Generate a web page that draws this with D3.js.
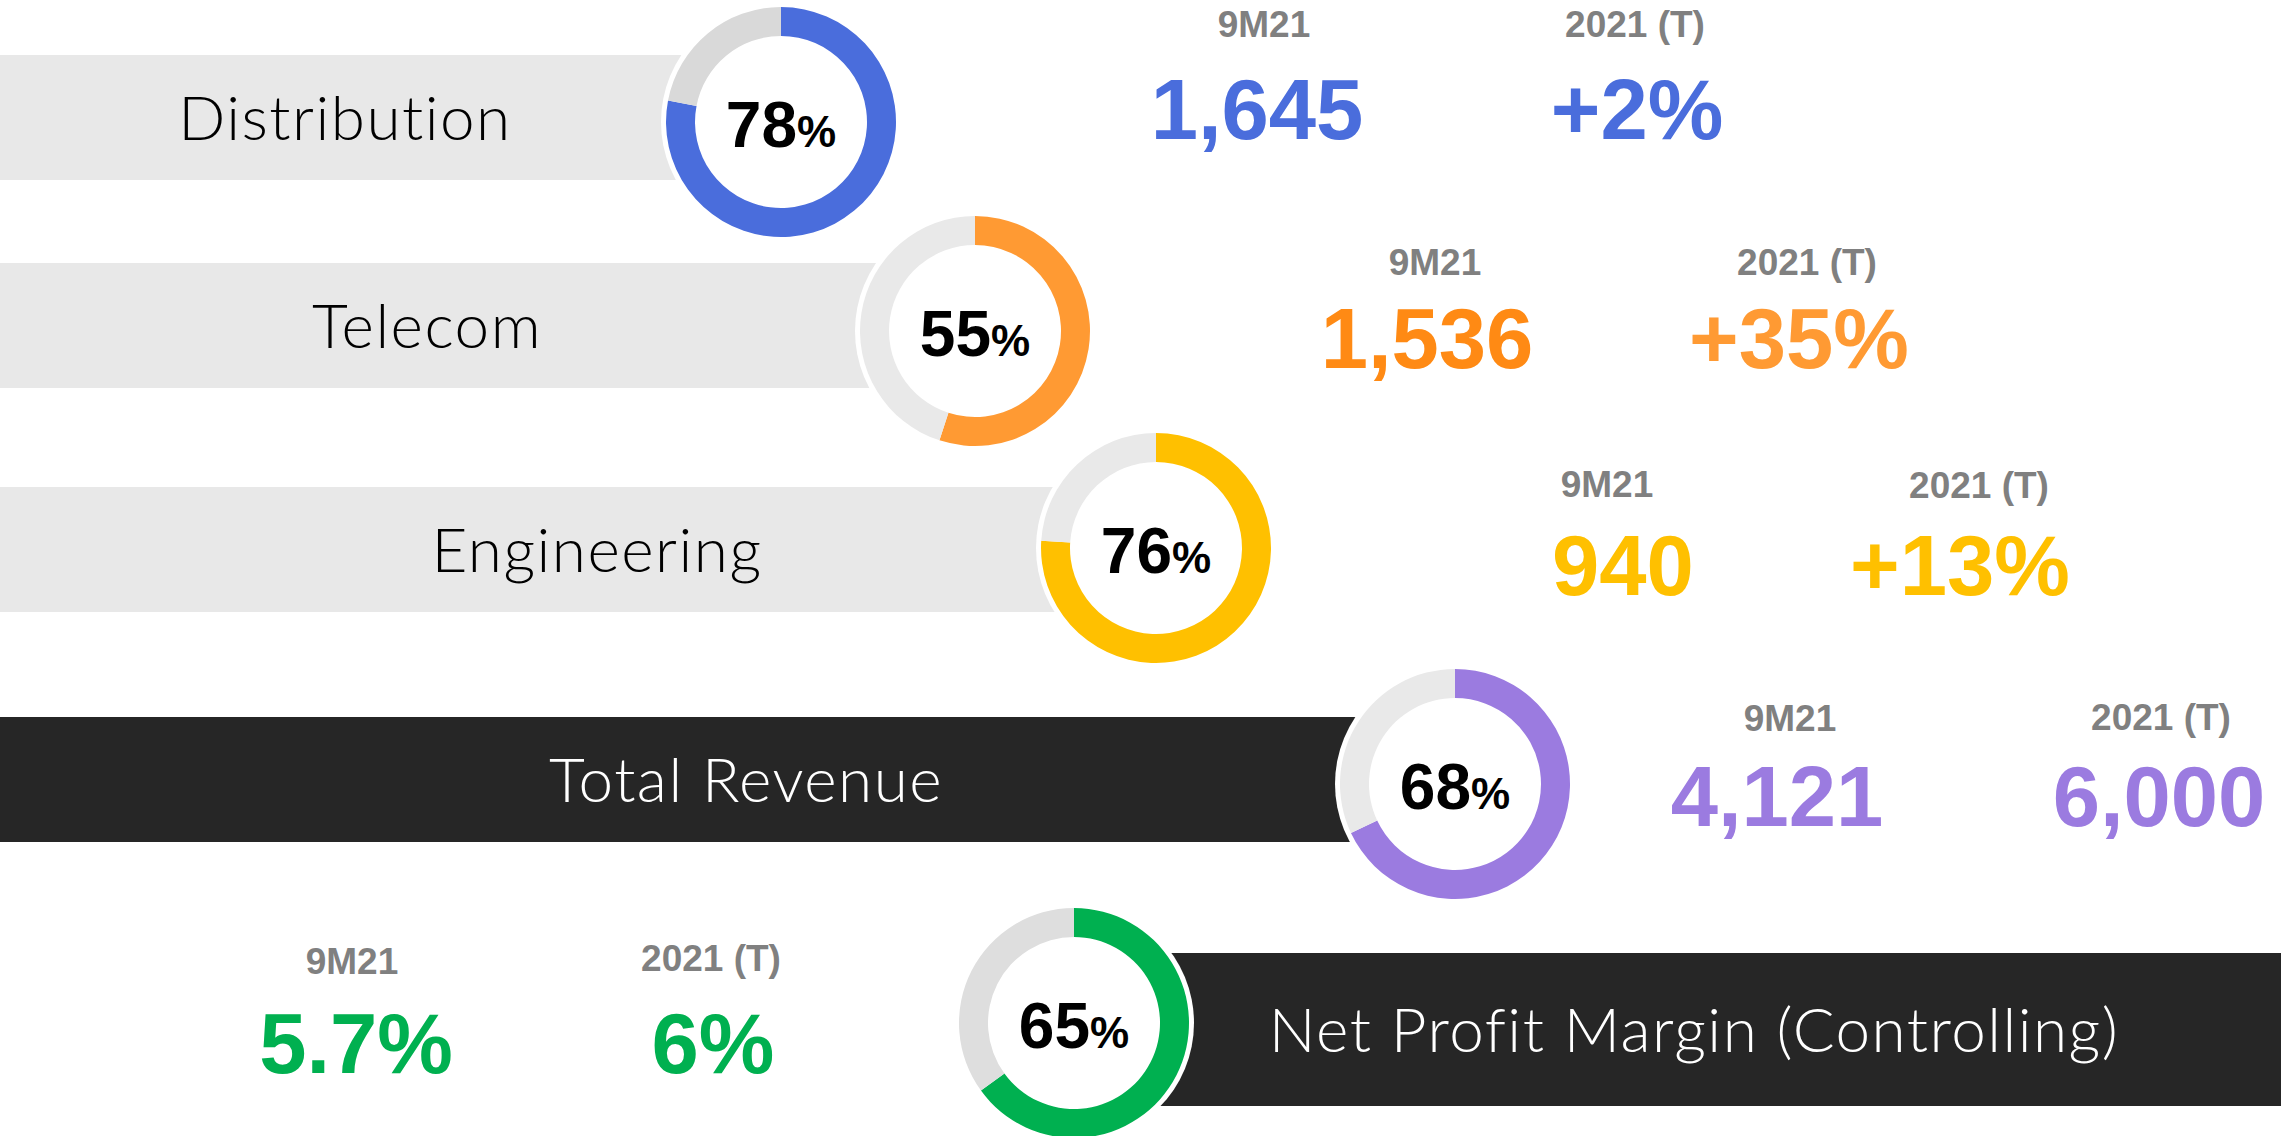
<!DOCTYPE html>
<html>
<head>
<meta charset="utf-8">
<script src="https://cdn.jsdelivr.net/npm/d3@7"></script>
<style>
  html, body { margin: 0; padding: 0; background: #fff; overflow: hidden; }
  .seg_label { font-family: "Lato", "Noto Sans", sans-serif; font-weight: 300; font-size: 62px; letter-spacing: 1.5px; }
  .col_head { font-family: "Liberation Sans", Arial, sans-serif; font-weight: bold; font-size: 37px; fill: #808080; }
  .col_val { font-family: "Liberation Sans", Arial, sans-serif; font-weight: bold; font-size: 85px; }
  .pct { font-family: "Liberation Sans", Arial, sans-serif; font-weight: bold; fill: #000; }
</style>
</head>
<body>
<div id="chart"></div>
<script>
var width = 2281;
var height = 1136;

// data
var segments = ["Distribution", "Telecom", "Engineering", "Total Revenue", "Net Profit Margin (Controlling)"];
var completion = [78, 55, 76, 68, 65];           // % of 2021 target reached in 9M21
var actual9M21 = [1645, 1536, 940, 4121, 5.7];
var target2021 = [2, 35, 13, 6000, 6];
var actualType = ["num", "num", "num", "num", "pct"];
var targetType = ["growth", "growth", "growth", "num", "pct"];
var colHeads = ["9M21", "2021 (T)"];

// colours
var mainColor = ["#4a6ddc", "#ff9a33", "#ffc000", "#9b7be0", "#00b050"];
var valColor = ["#4a6ddc", "#ff8a14", "#ffc000", "#9b7be0", "#00b050"];
var restColor = ["#d9d9d9", "#e9e9e9", "#e9e9e9", "#e9e9e9", "#dedede"];
var barColor = ["#e8e8e8", "#e8e8e8", "#e8e8e8", "#262626", "#262626"];
var textColor = ["#000", "#000", "#000", "#fff", "#fff"];

// layout (pixel positions for each row)
var layout = [
  {cx: 781,  cy: 122,  barTop: 55,  barBot: 180,  barFrom: 0,    barTo: 781,  labelX: 345,
   h1: [1264, 37],  v1: [1257, 139], h2: [1635, 37],  v2: [1637, 139]},
  {cx: 975,  cy: 331,  barTop: 263, barBot: 388,  barFrom: 0,    barTo: 975,  labelX: 427,
   h1: [1435, 275], v1: [1427, 368], h2: [1807, 275], v2: [1799, 368]},
  {cx: 1156, cy: 548,  barTop: 487, barBot: 612,  barFrom: 0,    barTo: 1156, labelX: 597,
   h1: [1607, 497], v1: [1623, 595], h2: [1979, 498], v2: [1960, 595]},
  {cx: 1455, cy: 784,  barTop: 717, barBot: 842,  barFrom: 0,    barTo: 1455, labelX: 746,
   h1: [1790, 731], v1: [1777, 826], h2: [2161, 730], v2: [2159, 826]},
  {cx: 1074, cy: 1023, barTop: 953, barBot: 1106, barFrom: 1074, barTo: 2281, labelX: 1694,
   h1: [352, 974],  v1: [356, 1073], h2: [711, 971],  v2: [713, 1073]}
];

var outerR = 115, innerR = 86, haloR = 120;

var svg = d3.select("#chart")
            .append("svg")
            .attr("width", width)
            .attr("height", height);

var rows = segments.map(function(s, i) {
  return {name: s, pct: completion[i], a: actual9M21[i], t: target2021[i], i: i};
});

function fmt(v, type) {
  if (type == "pct") return d3.format(".2~f")(v) + "%";
  if (type == "growth") return "+" + v + "%";
  return d3.format(",")(v);
}

// label bars
svg.selectAll(".seg_bar")
   .data(rows)
   .enter()
   .append("rect")
   .attr("class", "seg_bar")
   .attr("x", function(d) { return layout[d.i].barFrom; })
   .attr("y", function(d) { return layout[d.i].barTop; })
   .attr("width", function(d) { return layout[d.i].barTo - layout[d.i].barFrom; })
   .attr("height", function(d) { return layout[d.i].barBot - layout[d.i].barTop; })
   .style("fill", function(d) { return barColor[d.i]; });

svg.selectAll(".seg_label")
   .data(rows)
   .enter()
   .append("text")
   .attr("class", "seg_label")
   .attr("x", function(d) { return layout[d.i].labelX; })
   .attr("y", function(d) { return (layout[d.i].barTop + layout[d.i].barBot) / 2 + 22; })
   .attr("text-anchor", "middle")
   .style("fill", function(d) { return textColor[d.i]; })
   .text(function(d) { return d.name; });

// donuts
var pie = d3.pie().sort(null).value(function(d) { return d; });
var arc = d3.arc().innerRadius(innerR).outerRadius(outerR);

var donut = svg.selectAll(".donut")
               .data(rows)
               .enter()
               .append("g")
               .attr("class", "donut")
               .attr("transform", function(d) {
                 return "translate(" + layout[d.i].cx + "," + layout[d.i].cy + ")";
               });

donut.append("circle")
     .attr("r", haloR)
     .style("fill", "#fff");

donut.selectAll("path")
     .data(function(d) {
       return pie([d.pct, 100 - d.pct]).map(function(p, k) { p.row = d.i; p.k = k; return p; });
     })
     .enter()
     .append("path")
     .attr("d", arc)
     .style("fill", function(p) { return p.k == 0 ? mainColor[p.row] : restColor[p.row]; });

var pctText = donut.append("text")
                   .attr("class", "pct")
                   .attr("text-anchor", "middle")
                   .attr("y", 25);
pctText.append("tspan")
       .style("font-size", "64px")
       .text(function(d) { return d.pct; });
pctText.append("tspan")
       .style("font-size", "44px")
       .text("%");

// columns: headers and values
rows.forEach(function(d) {
  var L = layout[d.i];
  svg.append("text").attr("class", "col_head")
     .attr("x", L.h1[0]).attr("y", L.h1[1])
     .attr("text-anchor", "middle").text(colHeads[0]);
  svg.append("text").attr("class", "col_head")
     .attr("x", L.h2[0]).attr("y", L.h2[1])
     .attr("text-anchor", "middle").text(colHeads[1]);
  svg.append("text").attr("class", "col_val")
     .attr("x", L.v1[0]).attr("y", L.v1[1])
     .attr("text-anchor", "middle")
     .style("fill", valColor[d.i])
     .text(fmt(d.a, actualType[d.i]));
  svg.append("text").attr("class", "col_val")
     .attr("x", L.v2[0]).attr("y", L.v2[1])
     .attr("text-anchor", "middle")
     .style("fill", mainColor[d.i])
     .text(fmt(d.t, targetType[d.i]));
});
</script>
</body>
</html>
